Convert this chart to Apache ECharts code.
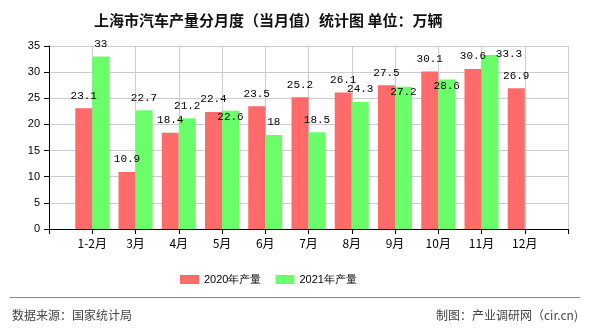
<!DOCTYPE html>
<html><head><meta charset="utf-8">
<script src="https://cdn.jsdelivr.net/npm/echarts@6/dist/echarts.min.js"></script>
<style>html,body{margin:0;padding:0;background:#fff}#c{width:590px;height:330px}</style>
</head><body><div id="c"></div>
<script>
var categories = ['', '1-2月', '3月', '4月', '5月', '6月', '7月', '8月', '9月', '10月', '11月', '12月', ''];
var values2020 = [null, 23.1, 10.9, 18.4, 22.4, 23.5, 25.2, 26.1, 27.5, 30.1, 30.6, 26.9, null];
var values2021 = [null, 33, 22.7, 21.2, 22.6, 18, 18.5, 24.3, 27.2, 28.6, 33.3, null, null];
var seriesNames = ['2020年产量', '2021年产量'];
var yTicks = [0, 5, 10, 15, 20, 25, 30, 35];

// label tweaks (index -> offset) imitating the reference's overlap avoidance
var tweak2021 = {4: [0, 19], 8: [0, 18], 9: [0, 19], 10: [19, 12]};

function mk(vals, tw) {
  return vals.map(function (v, i) {
    if (v === null) return null;
    var o = {value: v};
    if (tw && tw[i]) o.label = {offset: tw[i]};
    return o;
  });
}

var labelStyle = {show: true, position: 'top', distance: 7, color: '#000',
  fontFamily: 'Liberation Mono', fontSize: 11};

var chart = echarts.init(document.getElementById('c'), null, {renderer: 'canvas'});
chart.setOption({
  animation: false,
  title: {text: '上海市汽车产量分月度（当月值）统计图 单位：万辆', left: 89, top: 8,
    textStyle: {fontSize: 15, fontWeight: 'bold', color: '#111', fontFamily: 'Noto Sans CJK SC'}},
  legend: {data: seriesNames, top: 269, left: 175, itemWidth: 19, itemHeight: 9, itemGap: 14,
    icon: 'rect', textStyle: {fontSize: 11, color: '#000', fontFamily: 'Liberation Sans'}},
  grid: {left: 49, right: 22, top: 46, bottom: 101, containLabel: false},
  xAxis: {type: 'category', data: categories, boundaryGap: false,
    axisLine: {lineStyle: {color: '#000'}},
    axisTick: {show: true, length: 5, lineStyle: {color: '#000'}},
    axisLabel: {color: '#000', fontSize: 12, margin: 8, interval: 0, fontFamily: 'Noto Sans CJK SC'},
    splitLine: {show: true, lineStyle: {color: '#ccc'}}},
  yAxis: {type: 'value', min: yTicks[0], max: yTicks[yTicks.length - 1], interval: 5,
    axisLine: {show: true, lineStyle: {color: '#000'}},
    axisTick: {show: true, length: 5, lineStyle: {color: '#000'}},
    axisLabel: {color: '#000', fontSize: 11, margin: 9, fontFamily: 'Liberation Sans'},
    splitLine: {show: true, lineStyle: {color: '#ccc'}}},
  series: [
    {name: seriesNames[0], type: 'bar', data: mk(values2020, null), barWidth: 17, barGap: '0%',
      itemStyle: {color: '#FF6A6A'}, label: labelStyle},
    {name: seriesNames[1], type: 'bar', data: mk(values2021, tweak2021), barWidth: 17, barGap: '0%',
      itemStyle: {color: '#6AFF6A'}, label: labelStyle}
  ],
  graphic: [
    {type: 'line', shape: {x1: 10, y1: 297.5, x2: 580, y2: 297.5}, style: {stroke: '#888', lineWidth: 1}},
    {type: 'text', left: 12, top: 309, style: {text: '数据来源：国家统计局', fill: '#444', fontSize: 12, fontFamily: 'Noto Sans CJK SC'}},
    {type: 'text', right: 12, top: 309, style: {text: '制图：产业调研网（cir.cn)', fill: '#444', fontSize: 12, fontFamily: 'Noto Sans CJK SC'}}
  ]
});
</script></body></html>
